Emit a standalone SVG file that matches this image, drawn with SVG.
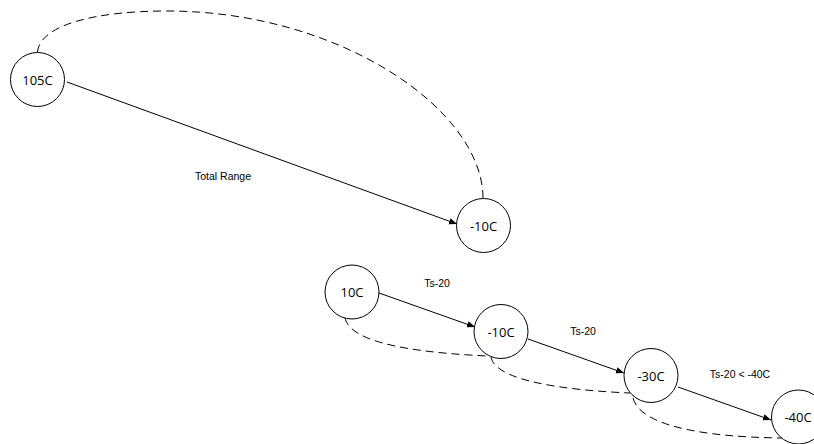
<svg xmlns="http://www.w3.org/2000/svg" width="814" height="444" viewBox="0 0 814 444">
<defs>
<style>
.node circle{fill:#fff;stroke:#000;stroke-width:1}
.node text{font-family:"Open Sans","Liberation Sans",sans-serif;font-size:13px;text-anchor:middle;dominant-baseline:central;fill:#000}
.edge{fill:none;stroke:#000;stroke-width:1}
.dash{fill:none;stroke:#000;stroke-width:1;stroke-dasharray:8 5}
.lbl{font-family:"Liberation Sans",Arial,sans-serif;font-size:10.5px;text-anchor:middle;fill:#000}
</style>
<marker id="arr" viewBox="0 0 10 10" refX="10" refY="5" markerWidth="8" markerHeight="8" markerUnits="userSpaceOnUse" orient="auto">
<path d="M0,1 L10,5 L0,9 Z" fill="#000"/>
</marker>
</defs>
<g id="connectors">
<path class="dash" d="M37.5,52 C40,25 95,11 167,11 C340,11 483,110 483,198"/>
<line class="edge" x1="67" y1="82" x2="457" y2="224" marker-end="url(#arr)"/>
<text class="lbl" x="223" y="180">Total Range</text>
<line class="edge" x1="379" y1="293" x2="475" y2="327" marker-end="url(#arr)"/>
<text class="lbl" x="437" y="287">Ts-20</text>
<line class="edge" x1="528" y1="339" x2="624" y2="373" marker-end="url(#arr)"/>
<text class="lbl" x="583" y="335">Ts-20</text>
<line class="edge" x1="678" y1="387" x2="771" y2="420" marker-end="url(#arr)"/>
<text class="lbl" x="740" y="378">Ts-20 &lt; -40C</text>
<path class="dash" d="M345,318 C350,340 400,352 488,356"/>
<path class="dash" d="M491,357 C495,380 560,390 630,393"/>
<path class="dash" d="M633,398 C640,425 700,437 782,438"/>
</g>
<g id="n105" class="node"><circle cx="37.5" cy="79.5" r="27"/><text x="37.5" y="79.5">105C</text></g>
<g id="nm10a" class="node"><circle cx="483.5" cy="225.5" r="27"/><text x="483.5" y="225.5">-10C</text></g>
<g id="n10" class="node"><circle cx="352" cy="292" r="27"/><text x="352" y="292">10C</text></g>
<g id="nm10b" class="node"><circle cx="501" cy="331.5" r="27"/><text x="501" y="331.5">-10C</text></g>
<g id="nm30" class="node"><circle cx="651" cy="375.5" r="27"/><text x="651" y="375.5">-30C</text></g>
<g id="nm40" class="node"><circle cx="798.5" cy="417" r="27"/><text x="798" y="417">-40C</text></g>
</svg>
